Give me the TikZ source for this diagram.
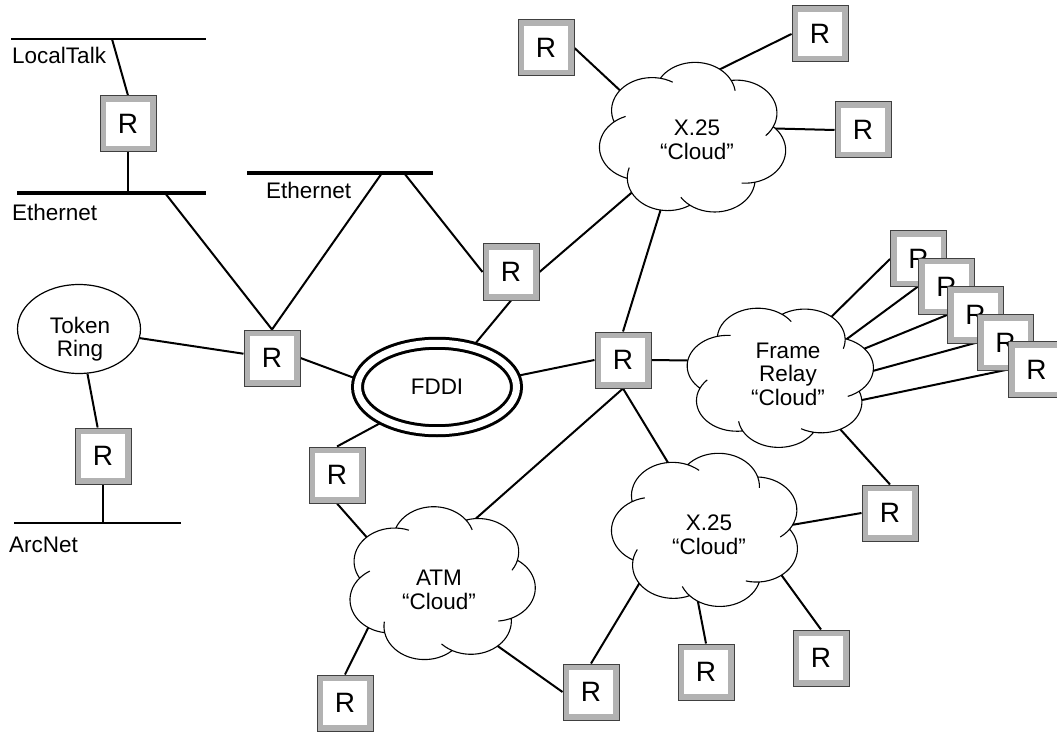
\documentclass[tikz,border=0pt]{standalone}
\usepackage{fontspec}
\setmainfont{Liberation Sans}
\usetikzlibrary{shapes.geometric}
\pgfdeclarelayer{background}
\pgfsetlayers{background,main}

\tikzset{
  router/.style={rectangle, draw=black!75, line width=1pt, fill=black!30,
    minimum size=56pt, inner sep=0pt, font=\fontsize{28}{28}\selectfont,
    path picture={\fill[white]
      ([shift={(6pt,6pt)}]path picture bounding box.south west) rectangle
      ([shift={(-6pt,-6pt)}]path picture bounding box.north east);}},
  link/.style={line width=2pt},
  thickbus/.style={line width=4.5pt},
  thinbus/.style={line width=1.1pt},
  lbl/.style={font=\fontsize{22.5}{24}\selectfont, inner sep=0pt},
  cloudtext/.style={lbl, align=center},
  cloudline/.style={line width=1.1pt},
  ringnet/.style={ellipse, draw, line width=1.2pt, fill=white,
    minimum width=123pt, minimum height=89pt, inner sep=0pt},
  fddiring/.style={ellipse, draw, line width=3pt, double, double distance=7pt,
    fill=white, minimum width=159pt, minimum height=87.5pt, inner sep=0pt,
    font=\fontsize{22.5}{24}\selectfont},
}

% Cloud made of seven overlapping bumps; each bump overshoots its
% junction a little, giving the hand-drawn inward flicks.
% #1 name, #2 #3 centre, #4 #5 half sizes, #6 rotation of the bumps
\newcommand\netcloud[6]{%
  \coordinate (#1) at (#2,#3);
  \begin{scope}[shift={(#2,#3)},xscale=#4,yscale=#5]
    \fill[white] ({#6-25.714}:0.9077)
      \foreach \k in {0,...,6}{
        arc[start angle={#6+\k*51.4286-61.06}, end angle={#6+\k*51.4286+61.06}, radius=0.45]
      } -- cycle;
    \draw[cloudline] \foreach \k in {0,...,6}{
        ({#6+\k*51.4286-25.714}:0.9077)
        arc[start angle={#6+\k*51.4286-61.06}, end angle={#6+\k*51.4286+80}, radius=0.45]
      };
  \end{scope}}

\begin{document}
\begin{tikzpicture}[x=1pt,y=-1pt]
\clip (0,0) rectangle (1057,735);
\begin{pgfonlayer}{background}
  \fill[white] (0,0) rectangle (1057,735);
\end{pgfonlayer}

% LAN segments on the left
\coordinate (ltL) at (11,39);   \coordinate (ltR) at (206,39);
\coordinate (e1L) at (17,193);  \coordinate (e1R) at (206,193);
\coordinate (e2L) at (247,173); \coordinate (e2R) at (433,173);
\coordinate (anL) at (14,523);  \coordinate (anR) at (181,523);
\draw[thinbus] (ltL) -- (ltR);
\draw[thickbus] (e1L) -- (e1R);
\draw[thickbus] (e2L) -- (e2R);
\draw[thinbus] (anL) -- (anR);

\node[lbl, anchor=base west] (lbllt) at (12,64) {LocalTalk};
\node[lbl, anchor=base west] (lble1) at (12,221) {Ethernet};
\node[lbl, anchor=base west] (lble2) at (266,199) {Ethernet};
\node[lbl, anchor=base west] (lblan) at (9,552) {ArcNet};

% taps on the segments
\coordinate (lt1) at (112,39);
\coordinate (e1a) at (128,193);
\coordinate (e1b) at (165,193);
\coordinate (e2a) at (382,173);
\coordinate (e2b) at (404,173);
\coordinate (an1) at (103,523);

% rings
\node[ringnet] (tr) at (79,329) {};
\node[cloudtext, font=\fontsize{22.5}{23}\selectfont] (trtext) at (80,339) {Token\\Ring};
\node[fddiring] (fddi) at (437,387) {FDDI};

% clouds
\netcloud{xtop}{693}{139}{90}{73}{15}
\netcloud{frc}{780}{376}{90}{68}{40}
\netcloud{atm}{441}{584}{90}{74}{5}
\netcloud{xlow}{707}{530}{91}{74}{25}

\node[cloudtext] (xtoptext) at (697,140) {X.25\\“Cloud”};
\node[cloudtext, font=\fontsize{22.5}{23.5}\selectfont] (frtext) at (788,374) {Frame\\Relay\\“Cloud”};
\node[cloudtext] (atmtext) at (439,590) {ATM\\“Cloud”};
\node[cloudtext] (xlowtext) at (709,535) {X.25\\“Cloud”};

% routers
\node[router] (r1)  at (128,124) {R};
\node[router] (r2)  at (272,358) {R};
\node[router] (r3)  at (511,272) {R};
\node[router] (rt)  at (103,456) {R};
\node[router] (rll) at (337,475) {R};
\node[router] (rbl) at (345,703) {R};
\node[router] (rbm) at (591,692) {R};
\node[router] (rc)  at (623,360) {R};
\node[router] (rtl) at (546,48) {R};
\node[router] (rtr) at (820,34) {R};
\node[router] (rr)  at (863,130) {R};
\node[router] (rlr) at (890,513) {R};
\node[router] (rb1) at (706,672) {R};
\node[router] (rb2) at (821,658) {R};
\node[router] (f1) at (918.5,259) {R};
\node[router] (f2) at (946.5,286.5) {R};
\node[router] (f3) at (975.5,315) {R};
\node[router] (f4) at (1005.5,342.5) {R};
\node[router] (f5) at (1036.5,369.5) {R};

% connector ends hidden under the rings and clouds
\coordinate (fd1) at (376,386);
\coordinate (fd2) at (460,362);
\coordinate (fd3) at (497,380);
\coordinate (fd4) at (399,413);
\coordinate (atm1) at (385,558);
\coordinate (atm2) at (383,598);
\coordinate (atm3) at (468,625);
\coordinate (atm4) at (455,537);
\coordinate (xl1) at (684,489);
\coordinate (xl2) at (654,559);
\coordinate (xl3) at (692,571);
\coordinate (xl4) at (769,558);
\coordinate (xl5) at (768,529);
\coordinate (fr0) at (822,409);
\coordinate (fr6) at (723,361);
\coordinate (fr1) at (819,329);
\coordinate (fr2) at (840,344);
\coordinate (fr3) at (839,359);
\coordinate (fr4) at (836,381);
\coordinate (fr5) at (843,404);
\coordinate (xt1) at (641,110);
\coordinate (xt2) at (686,86);
\coordinate (xt3) at (755,128);
\coordinate (xt4) at (651,176);
\coordinate (xt5) at (668,186);

\begin{pgfonlayer}{background}
  \draw[link] (lt1) -- (r1.north);
  \draw[link] (r1.south) -- (e1a);
  \draw[link] (e1b) -- (r2.north);
  \draw[link] (e2a) -- (r2.north);
  \draw[link] (e2b) -- (r3.west);
  \draw[link] (tr) -- (r2);
  \draw[link] (tr) -- (rt);
  \draw[link] (rt.south) -- (an1);
  \draw[link] (r2.east) -- (fd1);
  \draw[link] (r3.south) -- (fd2);
  \draw[link] (rc.west) -- (fd3);
  \draw[link] (rll.north) -- (fd4);
  \draw[link] (rll.south) -- (atm1);
  \draw[link] (rbl.north) -- (atm2);
  \draw[link] (rbm.west) -- (atm3);
  \draw[link] (rc.south) -- (atm4);
  \draw[link] (rc.south) -- (xl1);
  \draw[link] (rbm.north) -- (xl2);
  \draw[link] (rb1.north) -- (xl3);
  \draw[link] (rb2.north) -- (xl4);
  \draw[link] (rlr.west) -- (xl5);
  \draw[link] (rlr.north) -- (fr0);
  \draw[link] (rc.east) -- (fr6);
  \draw[link] (f1.west) -- (fr1);
  \draw[link] (f2.west) -- (fr2);
  \draw[link] (f3.west) -- (fr3);
  \draw[link] (f4.west) -- (fr4);
  \draw[link] (f5.west) -- (fr5);
  \draw[link] (rtl.east) -- (xt1);
  \draw[link] (rtr.west) -- (xt2);
  \draw[link] (rr.west) -- (xt3);
  \draw[link] (r3.east) -- (xt4);
  \draw[link] (rc.north) -- (xt5);
\end{pgfonlayer}
\end{tikzpicture}
\end{document}
